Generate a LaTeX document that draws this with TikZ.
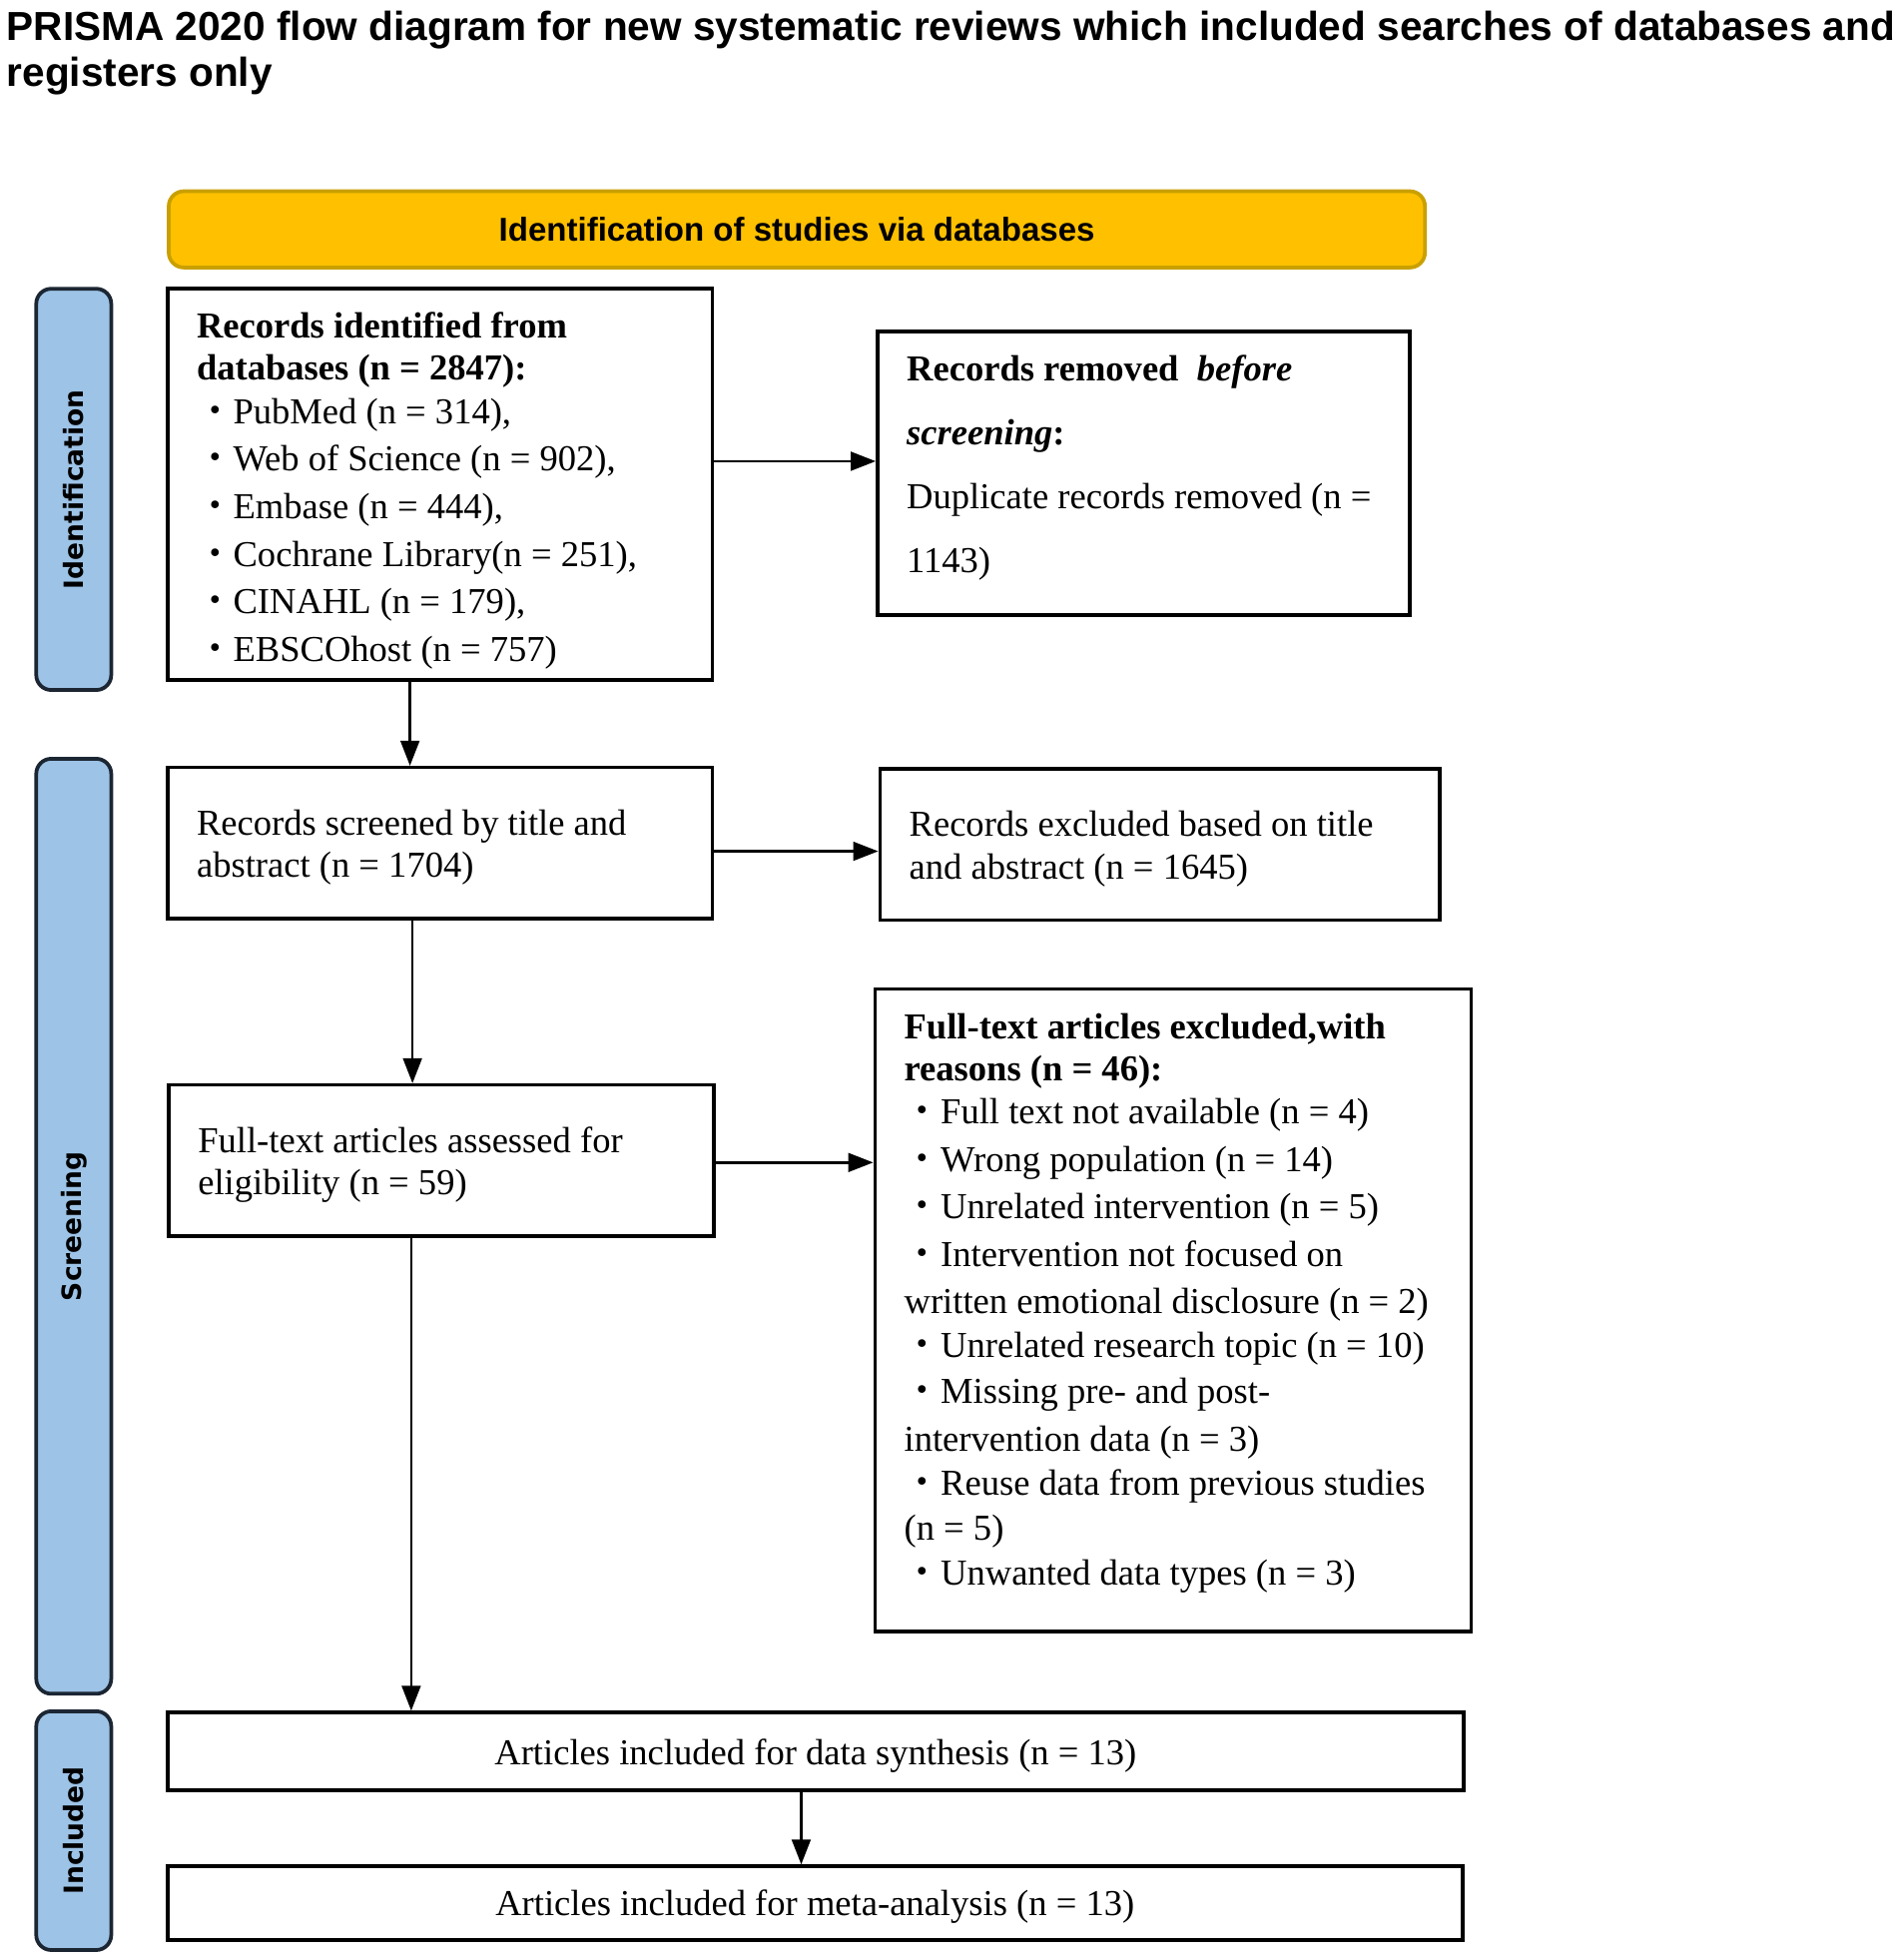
\documentclass[tikz,border=0pt]{standalone}
\usepackage{fontspec}
\setmainfont{Liberation Serif}
\newfontfamily\titlefont{Liberation Sans}
\newfontfamily\sidefont{DejaVu Sans}
\newfontfamily\cjkfont{Noto Sans CJK JP}
\usetikzlibrary{arrows.meta}
\definecolor{bannerfill}{HTML}{FFC000}
\definecolor{bannerline}{HTML}{C9A000}
\definecolor{barfill}{HTML}{9DC3E6}
\definecolor{barline}{HTML}{1C2633}
\newcommand{\bul}{{\cjkfont ・}}
\newcommand{\txtlines}[1]{\parbox[t]{14cm}{\raggedright #1}}
\begin{document}
\begin{tikzpicture}[x=0.5pt,y=-0.5pt,
  box/.style={draw=black, line width=1.4pt, inner sep=0pt, fill=white, font=\fontsize{14.6}{17}\selectfont},
  txt/.style={anchor=base west, inner sep=0pt, font=\fontsize{14.6}{19}\selectfont},
  arr/.style={line width=1pt, -{Triangle[length=10pt,width=7.5pt]}},
  bar/.style={draw=barline, line width=1.5pt, fill=barfill, rounded corners=6pt, minimum width=30pt, inner sep=0pt, font=\sidefont\bfseries\fontsize{10.6}{12}\selectfont},
]
\useasboundingbox (0,0) rectangle (1520,1568);

% title
\node[anchor=base west, inner sep=0pt, font=\titlefont\bfseries\fontsize{16.2}{18.5}\selectfont] (title) at (5,32)
  {\parbox[t]{30cm}{\raggedright PRISMA 2020 flow diagram for new systematic reviews which included searches of databases and\\ registers only}};

% banner
\node[draw=bannerline, line width=1.5pt, fill=bannerfill, rounded corners=6pt, minimum width=502.5pt, minimum height=30.5pt, inner sep=0pt, font=\titlefont\bfseries\fontsize{13.2}{15}\selectfont] (banner) at (637.5,183.5) {Identification of studies via databases};

% side bars
\node[bar, minimum height=160.5pt] (barid) at (59,391.5) {\rotatebox{90}{Identification}};
\node[bar, minimum height=374pt] (barsc) at (59,981) {\rotatebox{90}{Screening}};
\node[bar, minimum height=95.5pt] (barin) at (59,1464.5) {\rotatebox{90}{Included}};

% boxes
\node[box, minimum width=218pt, minimum height=156.5pt] (ident) at (352,387.5) {};
\node[box, minimum width=213pt, minimum height=113.5pt] (removed) at (915,378.5) {};
\node[box, minimum width=218pt, minimum height=60.5pt] (screened) at (352,674.5) {};
\node[box, minimum width=224pt, minimum height=60.5pt] (excluded) at (928,675.5) {};
\node[box, minimum width=218pt, minimum height=60.5pt] (assessed) at (353,928.5) {};
\node[box, minimum width=238.5pt, minimum height=257pt] (ftexcl) at (938.5,1048) {};
\node[box, minimum width=518.5pt, minimum height=31pt] (synth) at (652.5,1401) {\raisebox{-2pt}[\height][\depth]{Articles included for data synthesis (n = 13)}};
\node[box, minimum width=518pt, minimum height=29.5pt] (meta) at (652,1522.5) {\raisebox{-1.5pt}[\height][\depth]{Articles included for meta-analysis (n = 13)}};

% box texts
\node[txt] (identtxt) at (157,270) {\txtlines{\textbf{Records identified from}\\[-2pt]
  \textbf{databases (n = 2847):}\\[-1.5pt]
  \bul PubMed (n = 314),\\
  \bul Web of Science (n = 902),\\
  \bul Embase (n = 444),\\
  \bul Cochrane Library(n = 251),\\
  \bul CINAHL (n = 179),\\
  \bul EBSCOhost (n = 757)}};

\node[txt, font=\fontsize{14.6}{25.5}\selectfont] (removedtxt) at (725,305) {\txtlines{\textbf{Records removed\ \ \textit{before}}\\
  \textbf{\textit{screening}:}\\
  Duplicate records removed (n =\\
  1143)}};

\node[txt, font=\fontsize{14.6}{17}\selectfont] (screenedtxt) at (157,668) {\txtlines{Records screened by title and\\ abstract (n = 1704)}};
\node[txt, font=\fontsize{14.6}{17}\selectfont] (excludedtxt) at (727,669) {\txtlines{Records excluded based on title\\ and abstract (n = 1645)}};
\node[txt, font=\fontsize{14.6}{17}\selectfont] (assessedtxt) at (158,922) {\txtlines{Full-text articles assessed for\\ eligibility (n = 59)}};

\node[txt] (ftexcltxt) at (723,831) {\txtlines{\textbf{Full-text articles excluded,with}\\[-2pt]
  \textbf{reasons (n = 46):}\\[-2pt]
  \bul Full text not available (n = 4)\\
  \bul Wrong population (n = 14)\\
  \bul Unrelated intervention (n = 5)\\
  \bul Intervention not focused on\\
  written emotional disclosure (n = 2)\\[-1.5pt]
  \bul Unrelated research topic (n = 10)\\[-0.5pt]
  \bul Missing pre- and post-\\
  intervention data (n = 3)\\[-1.5pt]
  \bul Reuse data from previous studies\\[-1pt]
  (n = 5)\\[-1pt]
  \bul Unwanted data types (n = 3)}};

% connectors
\draw[arr] (ident.east |- 0,369) -- (removed.west |- 0,369);
\draw[arr] (ident.south -| 328,0) -- (screened.north -| 328,0);
\draw[arr] (screened.east |- 0,681) -- (excluded.west |- 0,681);
\draw[arr] (screened.south -| 330,0) -- (assessed.north -| 330,0);
\draw[arr] (assessed.east |- 0,930) -- (ftexcl.west |- 0,930);
\draw[arr] (assessed.south -| 329,0) -- (synth.north -| 329,0);
\draw[arr] (synth.south -| 641,0) -- (meta.north -| 641,0);
\end{tikzpicture}
\end{document}
